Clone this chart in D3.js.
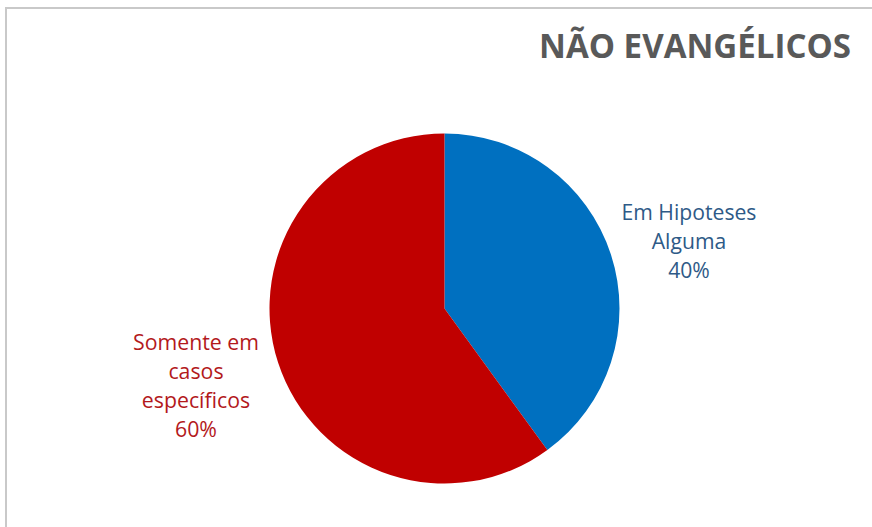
<!DOCTYPE html>
<html>
<head>
<meta charset="utf-8">
<script src="https://cdn.jsdelivr.net/npm/d3@7"></script>
<style>
  html, body { margin: 0; padding: 0; background: #fff; }
  svg { display: block; }
</style>
</head>
<body>
<svg id="chart" width="872" height="527"></svg>
<script>
// Share of answers among non-evangelicals
const categories = ["Em Hipoteses Alguma", "Somente em casos específicos"];
const values = [40, 60];
const labelLines = [["Em Hipoteses", "Alguma"], ["Somente em", "casos", "específicos"]];
const sliceColors = ["#0070C0", "#C00000"];
const labelColors = ["#2E5A87", "#B3191C"];
const title = "NÃO EVANGÉLICOS";

const W = 872, H = 527;
const svg = d3.select("#chart");
const font = "'Open Sans', Lato, sans-serif";

// size a text element so its first line spans the given width
function fitSize(sel, width) {
  const node = sel.node();
  const base = +sel.attr("font-size");
  const w = node.getComputedTextLength();
  sel.attr("font-size", (base * width / w).toFixed(2));
}

// chart area frame (top and left edges visible)
svg.append("path")
  .attr("d", `M6,${H} L6,8 L${W},8`)
  .attr("fill", "none")
  .attr("stroke", "#C9C9C9")
  .attr("stroke-width", 2);

// title, right aligned
const titleText = svg.append("text")
  .attr("x", 851)
  .attr("y", 58)
  .attr("text-anchor", "end")
  .attr("font-family", font)
  .attr("font-weight", 700)
  .attr("font-size", 26)
  .attr("fill", "#595959")
  .text(title);
fitSize(titleText, 312);

const cx = 444.5, cy = 308.5, r = 175;
const pie = d3.pie().sort(null).value(d => d);
const arcs = pie(values);
const arc = d3.arc().innerRadius(0).outerRadius(r);

const g = svg.append("g").attr("transform", `translate(${cx},${cy})`);
g.selectAll("path.slice")
  .data(arcs)
  .join("path")
  .attr("class", "slice")
  .attr("d", arc)
  .attr("fill", (d, i) => sliceColors[i]);

// outside labels: category lines plus percentage
const labelPos = [[689, 220], [196, 350]];
const labelWidth = [135, 126];
const lineH = 29;
const fmt = d3.format(".0%");
arcs.forEach((a, i) => {
  const lines = labelLines[i].concat([fmt(values[i] / d3.sum(values))]);
  const probe = svg.append("text")
    .attr("font-family", font)
    .attr("font-size", 20)
    .text(lines[0]);
  fitSize(probe, labelWidth[i]);
  const size = probe.attr("font-size");
  probe.remove();
  const t = svg.append("text")
    .attr("text-anchor", "middle")
    .attr("font-family", font)
    .attr("font-size", size)
    .attr("fill", labelColors[i]);
  lines.forEach((s, k) => {
    t.append("tspan")
      .attr("x", labelPos[i][0])
      .attr("y", labelPos[i][1] + k * lineH)
      .text(s);
  });
});
</script>
</body>
</html>
